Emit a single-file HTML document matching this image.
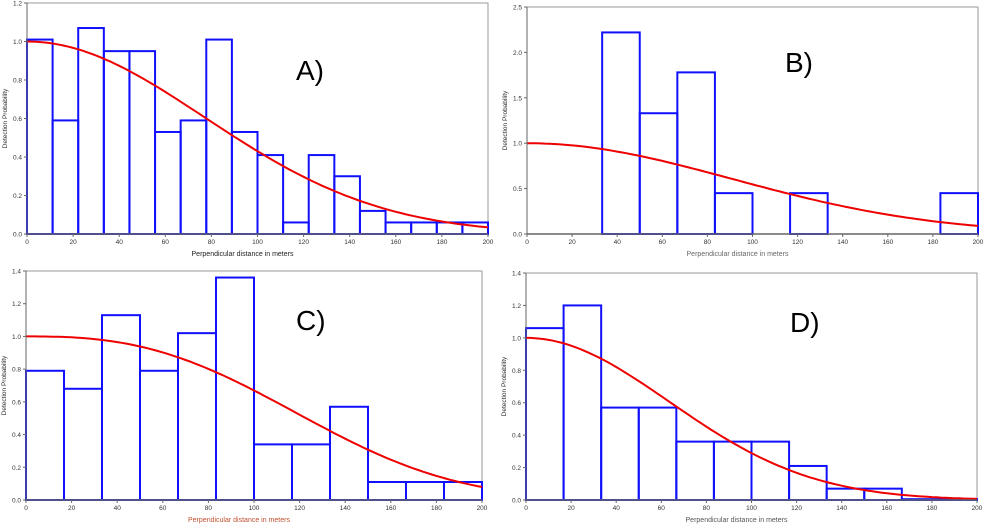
<!DOCTYPE html>
<html><head><meta charset="utf-8"><style>
body{margin:0;background:#fff;width:985px;height:524px;overflow:hidden}
svg{position:absolute;left:0;top:0}
text{font-family:"Liberation Sans",sans-serif}
</style></head><body>
<svg id="c" width="985" height="524"></svg>
<script>
const aVals=[1.01,0.59,1.07,0.95,0.95,0.53,0.59,1.01,0.53,0.41,0.06,0.41,0.30,0.12,0.06,0.06,0.06,0.06];
const bVals=[0,0,2.22,1.33,1.78,0.45,0,0.45,0,0,0,0.45];
const cVals=[0.79,0.68,1.13,0.79,1.02,1.36,0.34,0.34,0.57,0.11,0.11,0.11];
const dVals=[1.06,1.2,0.57,0.57,0.36,0.36,0.36,0.21,0.07,0.07,0.005,0.005];
const xTicks=[0,20,40,60,80,100,120,140,160,180,200];
const aYTicks=["0.0","0.2","0.4","0.6","0.8","1.0","1.2"];
const bYTicks=["0.0","0.5","1.0","1.5","2.0","2.5"];
const cYTicks=["0.0","0.2","0.4","0.6","0.8","1.0","1.2","1.4"];
const dYTicks=cYTicks;
const panels=[
 {id:'a',label:'A)',vals:aVals,yt:aYTicks,ymax:1.2,x0:27,x1:488,y0:234,y1:3,lx:296,ly:80,curve:x=>Math.exp(-x*x/(2*77*77)),tc:'#222'},
 {id:'b',label:'B)',vals:bVals,yt:bYTicks,ymax:2.5,x0:527,x1:978,y0:234,y1:7,lx:785,ly:72,curve:x=>Math.exp(-x*x/(2*91*91)),tc:'#666'},
 {id:'c',label:'C)',vals:cVals,yt:cYTicks,ymax:1.4,x0:26,x1:482,y0:500,y1:271,lx:296,ly:330,curve:x=>Math.exp(-Math.pow(x/141,2.66)),tc:'#c05030'},
 {id:'d',label:'D)',vals:dVals,yt:dYTicks,ymax:1.4,x0:526,x1:977,y0:500,y1:273,lx:790,ly:332,curve:x=>Math.exp(-x*x/(2*63.5*63.5)),tc:'#555'}
];
const svg=document.getElementById('c');const NS='http://www.w3.org/2000/svg';
function mk(t,at,p){const e=document.createElementNS(NS,t);for(const k in at)e.setAttribute(k,at[k]);(p||svg).appendChild(e);return e;}
panels.forEach(P=>{
 const g=mk('g',{});
 
 
 const sx=v=>P.x0+(P.x1-P.x0)*v/200, sy=v=>P.y0-(P.y0-P.y1)*v/P.ymax;
 const fr=mk('rect',{x:P.x0,y:P.y1,width:P.x1-P.x0,height:P.y0-P.y1,fill:'none',stroke:'#999','stroke-width':1},g);
 
 
 const w=200/P.vals.length;
 P.vals.forEach((v,i)=>{
  const r=mk('rect',{x:sx(i*w),y:sy(v),width:sx(w)-sx(0),height:P.y0-sy(v),fill:'none',stroke:'#1010ff','stroke-width':2},g);
  
  
 });
 let d='';for(let x=0;x<=200;x+=2)d+=(x?'L':'M')+sx(x).toFixed(1)+','+sy(P.curve(x)).toFixed(1);
 const c=mk('path',{d:d,fill:'none',stroke:'#ee0000','stroke-width':2},g);
 
 
 mk('line',{x1:P.x0,y1:P.y0,x2:P.x1,y2:P.y0,stroke:'#666','stroke-width':1.5},g);
 mk('line',{x1:P.x0,y1:P.y0,x2:P.x0,y2:P.y1,stroke:'#666','stroke-width':1},g);
 xTicks.forEach(t=>{
  mk('line',{x1:sx(t),y1:P.y0,x2:sx(t),y2:P.y0+3,stroke:'#666'},g);
  const tx=mk('text',{x:sx(t),y:P.y0+10,'font-size':6.5,'text-anchor':'middle',fill:'#333'},g);tx.textContent=t;
  
  
 });
 P.yt.forEach(t=>{
  const y=sy(parseFloat(t));
  mk('line',{x1:P.x0-3,y1:y,x2:P.x0,y2:y,stroke:'#666'},g);
  const tx=mk('text',{x:P.x0-5,y:y+2.5,'font-size':6.5,'text-anchor':'end',fill:'#333'},g);tx.textContent=t;
  
  
 });
 const xt=mk('text',{x:(P.x0+P.x1)/2-15,y:P.y0+22,'font-size':7,'text-anchor':'middle',fill:P.tc},g);xt.textContent='Perpendicular distance in meters';
 
 
 const yx=P.x0-20,yy=(P.y0+P.y1)/2;
 const yt=mk('text',{x:yx,y:yy,'font-size':6.5,'text-anchor':'middle',fill:'#333',transform:`rotate(-90 ${yx} ${yy})`},g);yt.textContent='Detection Probability';
 
 
 const lb=mk('text',{x:P.lx,y:P.ly,'font-size':28,fill:'#000'},g);lb.textContent=P.label;
 
 
});
</script>
</body></html>
